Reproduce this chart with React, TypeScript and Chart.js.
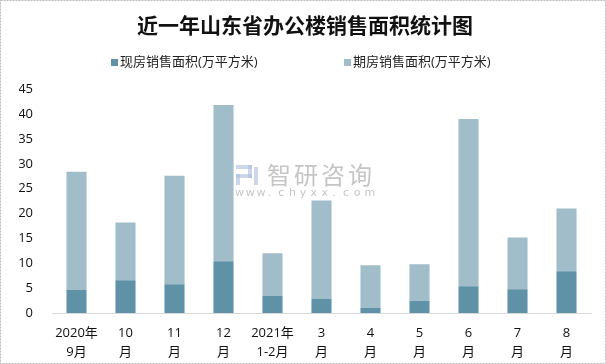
import { useEffect, useRef } from "react";
import { Chart, registerables } from "chart.js";

Chart.register(...registerables);

const categories: string[][] = [
  ["2020年", "9月"],
  ["10", "月"],
  ["11", "月"],
  ["12", "月"],
  ["2021年", "1-2月"],
  ["3", "月"],
  ["4", "月"],
  ["5", "月"],
  ["6", "月"],
  ["7", "月"],
  ["8", "月"],
];
const spotSales = [4.6, 6.6, 5.8, 10.4, 3.4, 2.8, 1.0, 2.4, 5.4, 4.8, 8.4];
const futureSales = [23.8, 11.6, 21.8, 31.4, 8.6, 19.8, 8.6, 7.4, 33.6, 10.4, 12.6];
const seriesNames = ["现房销售面积(万平方米)", "期房销售面积(万平方米)"];
const seriesColors = ["#5f92a7", "#a0bdc9"];
const titleText = "近一年山东省办公楼销售面积统计图";

const FONT = "'Open Sans', 'Noto Sans CJK SC', sans-serif";

const frame = {
  id: "frame",
  beforeDraw(chart: any) {
    const { ctx, width, height } = chart;
    ctx.save();
    ctx.fillStyle = "#ffffff";
    ctx.fillRect(0, 0, width, height);
    ctx.restore();
  },
  afterDraw(chart: any) {
    const { ctx, width, height } = chart;
    ctx.save();
    ctx.strokeStyle = "#b8b8b8";
    ctx.lineWidth = 1;
    ctx.setLineDash([2, 1]);
    ctx.strokeRect(0.5, 0.5, width - 1, height - 1);
    ctx.setLineDash([]);
    // legend
    const legendX = [111, 344];
    ctx.textBaseline = "middle";
    ctx.textAlign = "left";
    ctx.font = "13px " + FONT;
    chart.data.datasets.forEach((ds: any, i: number) => {
      ctx.fillStyle = ds.backgroundColor;
      ctx.fillRect(legendX[i], 59, 7, 7);
      ctx.fillStyle = "#222";
      ctx.fillText(ds.label, legendX[i] + 9, 62);
    });
    // watermark
    ctx.fillStyle = "rgba(150,150,150,0.55)";
    ctx.font = "24px 'Noto Sans CJK SC', sans-serif";
    const wm = "智研咨询";
    for (let i = 0; i < wm.length; i++) ctx.fillText(wm[i], 267 + i * 27, 175);
    ctx.font = "11px 'DejaVu Sans', sans-serif";
    const url = "www.chyxx.com";
    let x = 235;
    for (const ch of url) {
      ctx.fillText(ch, x, 193);
      x += 10.8;
    }
    ctx.fillStyle = "rgba(170,190,220,0.6)";
    ctx.fillRect(236, 165, 16, 4);
    ctx.fillRect(236, 174, 16, 4);
    ctx.fillRect(248, 165, 4, 13);
    ctx.fillRect(236, 174, 4, 11);
    ctx.fillRect(254, 167, 4, 18);
    ctx.restore();
  },
};

export default function App() {
  const ref = useRef<HTMLCanvasElement | null>(null);
  useEffect(() => {
    document.body.style.margin = "0";
    const chart = new Chart(ref.current as HTMLCanvasElement, {
      type: "bar",
      data: {
        labels: categories,
        datasets: [
          {
            label: seriesNames[0],
            data: spotSales,
            backgroundColor: seriesColors[0],
            barPercentage: 0.41,
            categoryPercentage: 1,
          },
          {
            label: seriesNames[1],
            data: futureSales,
            backgroundColor: seriesColors[1],
            barPercentage: 0.41,
            categoryPercentage: 1,
          },
        ],
      },
      options: {
        animation: false,
        responsive: false,
        maintainAspectRatio: false,
        layout: { padding: { left: 19, right: 15, top: 0, bottom: 0 } },
        plugins: {
          title: {
            display: true,
            text: titleText,
            color: "#111",
            font: { family: "'Noto Sans CJK SC', serif", size: 21, weight: "bold" },
            padding: { top: 12, bottom: 52 },
          },
          legend: { display: false },
          tooltip: { enabled: false },
        },
        scales: {
          x: {
            stacked: true,
            grid: { display: false, drawTicks: false },
            border: { display: true, color: "#d9d9d9" },
            ticks: {
              color: "#111",
              font: { family: FONT, size: 13, lineHeight: 1.45 },
              maxRotation: 0,
              padding: 11,
              autoSkip: false,
            },
            afterFit(scale: any) {
              scale.paddingLeft = 0;
              scale.paddingRight = 0;
              scale.height = 51;
            },
          },
          y: {
            stacked: true,
            min: 0,
            max: 45,
            grid: { display: false, drawTicks: false },
            border: { display: false },
            ticks: { stepSize: 5, color: "#111", font: { family: FONT, size: 13 }, padding: 19, autoSkip: false },
            afterFit(scale: any) {
              scale.width = 33;
            },
          },
        },
      },
      plugins: [frame],
    });
    return () => chart.destroy();
  }, []);
  return (
    <div style={{ position: "absolute", left: 0, top: 0, width: 606, height: 364 }}>
      <canvas ref={ref} width={606} height={364} style={{ width: 606, height: 364 }} />
    </div>
  );
}
